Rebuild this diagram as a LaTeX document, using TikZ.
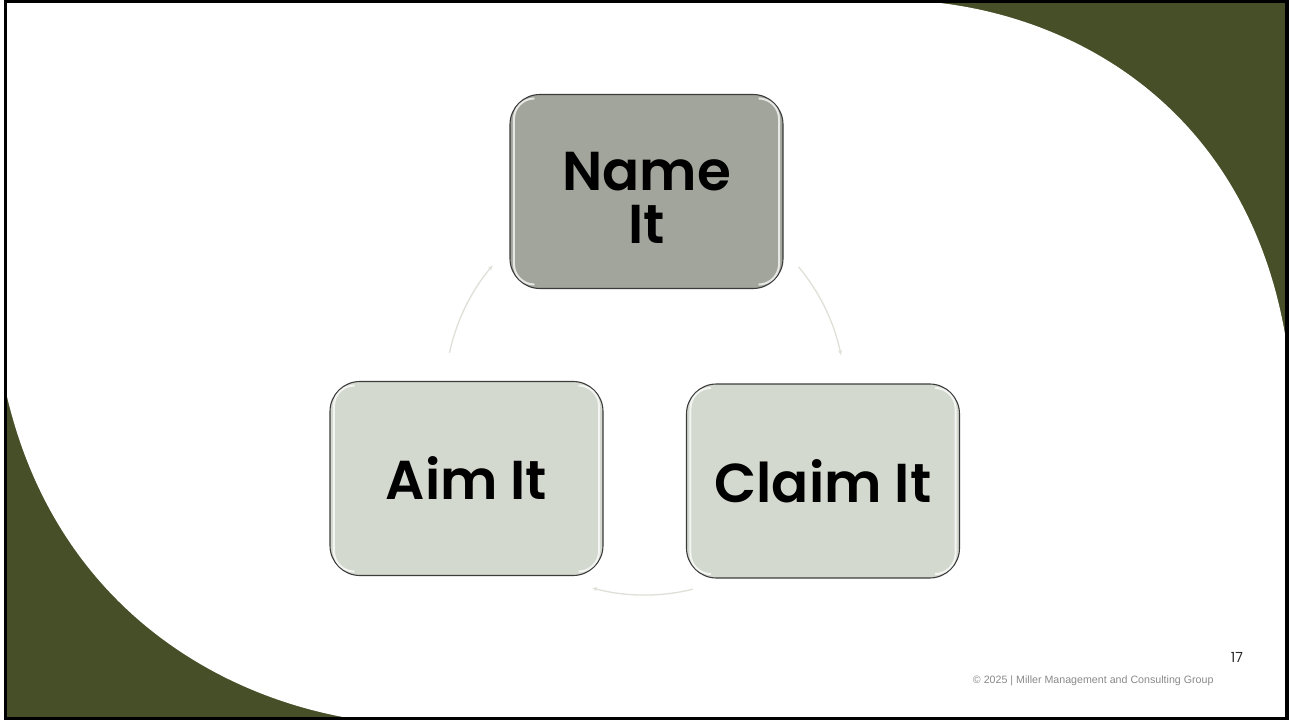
\documentclass[tikz,border=0pt]{standalone}
\usepackage{fontspec}
\newfontfamily\pop{Poppins}
\newfontfamily\popsb{Poppins SemiBold}
\newfontfamily\lib{Liberation Sans}
\usetikzlibrary{calc,arrows.meta}
\definecolor{olive}{HTML}{474F28}
\definecolor{darkbox}{HTML}{A2A59B}
\definecolor{lightbox}{HTML}{D3D9CE}
\definecolor{boxline}{HTML}{3C3C3C}
\definecolor{arcgray}{HTML}{E0E0D8}
\definecolor{footgray}{HTML}{8A8A8A}
\newcommand\boxgloss[1]{%
  \draw[gloss] ($(#1.north west)+(25,4.5)$) arc[start angle=270,end angle=180,radius=20.5]
     -- ($(#1.south west)+(4.5,-25)$) arc[start angle=180,end angle=90,radius=20.5];
  \draw[gloss] ($(#1.north east)+(-25,4.5)$) arc[start angle=270,end angle=360,radius=20.5]
     -- ($(#1.south east)+(-4.5,-25)$) arc[start angle=0,end angle=90,radius=20.5];
}
\begin{document}
\begin{tikzpicture}[x=1bp,y=-1bp,
  box/.style={draw=boxline, line width=1.1bp, rounded corners=30bp,
    minimum width=273bp, minimum height=194bp, inner sep=0pt,
    font=\popsb\fontsize{55}{53}\selectfont, align=center, text=black},
  cyc/.style={draw=arcgray, line width=1.3bp, -{Stealth[length=5bp,width=4bp]}},
  gloss/.style={draw=white, line width=2bp, opacity=0.75}]
\useasboundingbox (0,0) rectangle (1289,720);
% background
\fill[olive] (0,0) rectangle (1289,720);
\fill[white] (0,0) -- (940,0) -- (940,3) .. controls (1090,21) and (1250,120) .. (1286,340)
  -- (1289,340) -- (1289,720) -- (343,720) -- (343,717)
  .. controls (200,690) and (45,590) .. (3,378) -- (0,378) -- cycle;
\fill[white] (0,0) rectangle (3.6,720);
\draw[black, line width=3.6bp] (5.4,1.4) rectangle (1287.2,718.6);
% cycle arcs
\coordinate (cc) at (645,395);
\draw[cyc] ($(cc)+(192.2:200)$) arc[start angle=192.2, end angle=220.4, radius=200];
\draw[cyc] ($(cc)+(320.2:200)$) arc[start angle=320.2, end angle=348.5, radius=200];
\draw[cyc] ($(cc)+(76.2:200)$) arc[start angle=76.2, end angle=105.3, radius=200];
% boxes
\node[box, fill=darkbox] (name) at (646.5,191.5) {\rule{0pt}{50.5bp}Name\\It};
\node[box, fill=lightbox] (aim) at (466.5,478.5) {Aim It};
\node[box, fill=lightbox] (claim) at (823,481) {Claim It};
\boxgloss{name}
\boxgloss{aim}
\boxgloss{claim}
% footer
\node[font=\pop\fontsize{14}{14}\selectfont, text=black!85] (pg) at (1237,657) {17};
\node[font=\lib\fontsize{10.7}{12}\selectfont, text=footgray, anchor=east] (cr) at (1217,681) {© 2025 | Miller Management and Consulting Group};
\end{tikzpicture}
\end{document}
